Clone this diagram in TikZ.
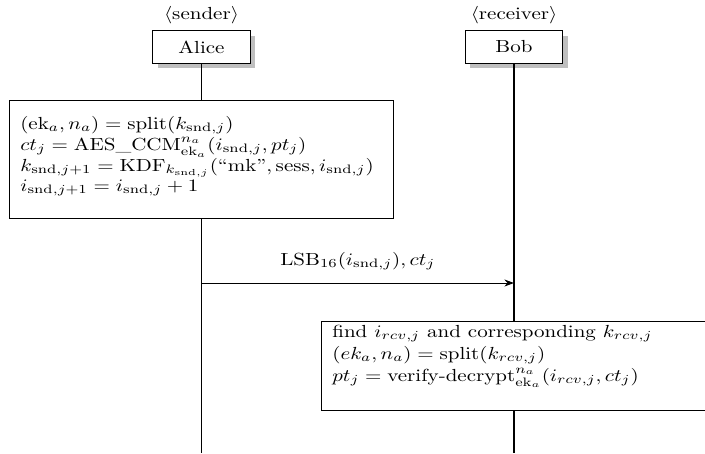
\documentclass[tikz,border=0pt]{standalone}
\usepackage{amsmath}
\usepackage{graphicx}
\usetikzlibrary{shadows,arrows.meta}
% text is set a little wider than tall
\newcommand\widetext[1]{\scalebox{1.2}[1]{#1}}
\begin{document}
\begin{tikzpicture}[x={(0.5714pt,0)},y={(0,-0.5714pt)},
  thread/.style={draw,fill=white,line width=0.5pt,inner sep=0pt,
    minimum width=55.6pt,minimum height=18.6pt,
    drop shadow={fill=black!25,opacity=1,shadow xshift=2.8pt,shadow yshift=-2.8pt}},
  role/.style={inner sep=0pt,anchor=base},
  actbox/.style={draw,fill=white,line width=0.5pt,inner sep=0pt},
  line/.style={inner sep=0pt,anchor=base west},
  life/.style={line width=1pt},
  msg/.style={line width=0.5pt,-{Stealth[length=5.5pt,width=4pt]}}]
\useasboundingbox (0,0) rectangle (705,453);

% participants
\node[role] (senderlbl) at (201.5,19) {\widetext{$\langle$sender$\rangle$}};
\node[role] (receiverlbl) at (514,19) {\widetext{$\langle$receiver$\rangle$}};
\node[thread] (alice) at (201.5,47) {\widetext{Alice}};
\node[thread] (bob) at (514,47) {\widetext{Bob}};

% sender action
\node[actbox,minimum width=219.4pt,minimum height=67.4pt] (sendbox) at (201.3,159) {};
\node[line] (s1) at (20,129) {\widetext{$(\mathrm{ek}_a, n_a) = \mathrm{split}(k_{\mathrm{snd},j})$}};
\node[line] (s2) at (20,150) {\widetext{$ct_j = \mathrm{AES\_CCM}^{n_a}_{\mathrm{ek}_a}(i_{\mathrm{snd},j}, pt_j)$}};
\node[line] (s3) at (20,171) {\widetext{$k_{\mathrm{snd},j+1} = \mathrm{KDF}_{k_{\mathrm{snd},j}}(\text{``mk''}, \mathrm{sess}, i_{\mathrm{snd},j})$}};
\node[line] (s4) at (20,191) {\widetext{$i_{\mathrm{snd},j+1} = i_{\mathrm{snd},j} + 1$}};

% receiver action
\node[actbox,minimum width=221.7pt,minimum height=50.5pt] (rcvbox) at (515.9,366) {};
\node[line] (r1) at (332,337) {\widetext{find $i_{rcv,j}$ and corresponding $k_{rcv,j}$}};
\node[line] (r2) at (332,359) {\widetext{$(ek_a, n_a) = \mathrm{split}(k_{rcv,j})$}};
\node[line] (r3) at (332,381) {\widetext{$pt_j = \text{verify-decrypt}^{n_a}_{\mathrm{ek}_a}(i_{rcv,j}, ct_j)$}};

% lifeline ends
\coordinate (aend) at (201.5,453);
\coordinate (bend) at (514,453);
\coordinate (amsg) at (201.5,283);
\coordinate (bmsg) at (514,283);

% lifelines
\draw[life] (alice.south) -- (alice.south |- sendbox.north);
\draw[life] (alice.south |- sendbox.south) -- (aend);
\draw[life] (bob.south) -- (bob.south |- rcvbox.north);
\draw[life] (bob.south |- rcvbox.south) -- (bend);

% message
\draw[msg] (amsg) -- (bmsg);
\node[role] (msglbl) at (357.8,265) {\widetext{$\mathrm{LSB}_{16}(i_{\mathrm{snd},j}), ct_j$}};
\end{tikzpicture}
\end{document}
